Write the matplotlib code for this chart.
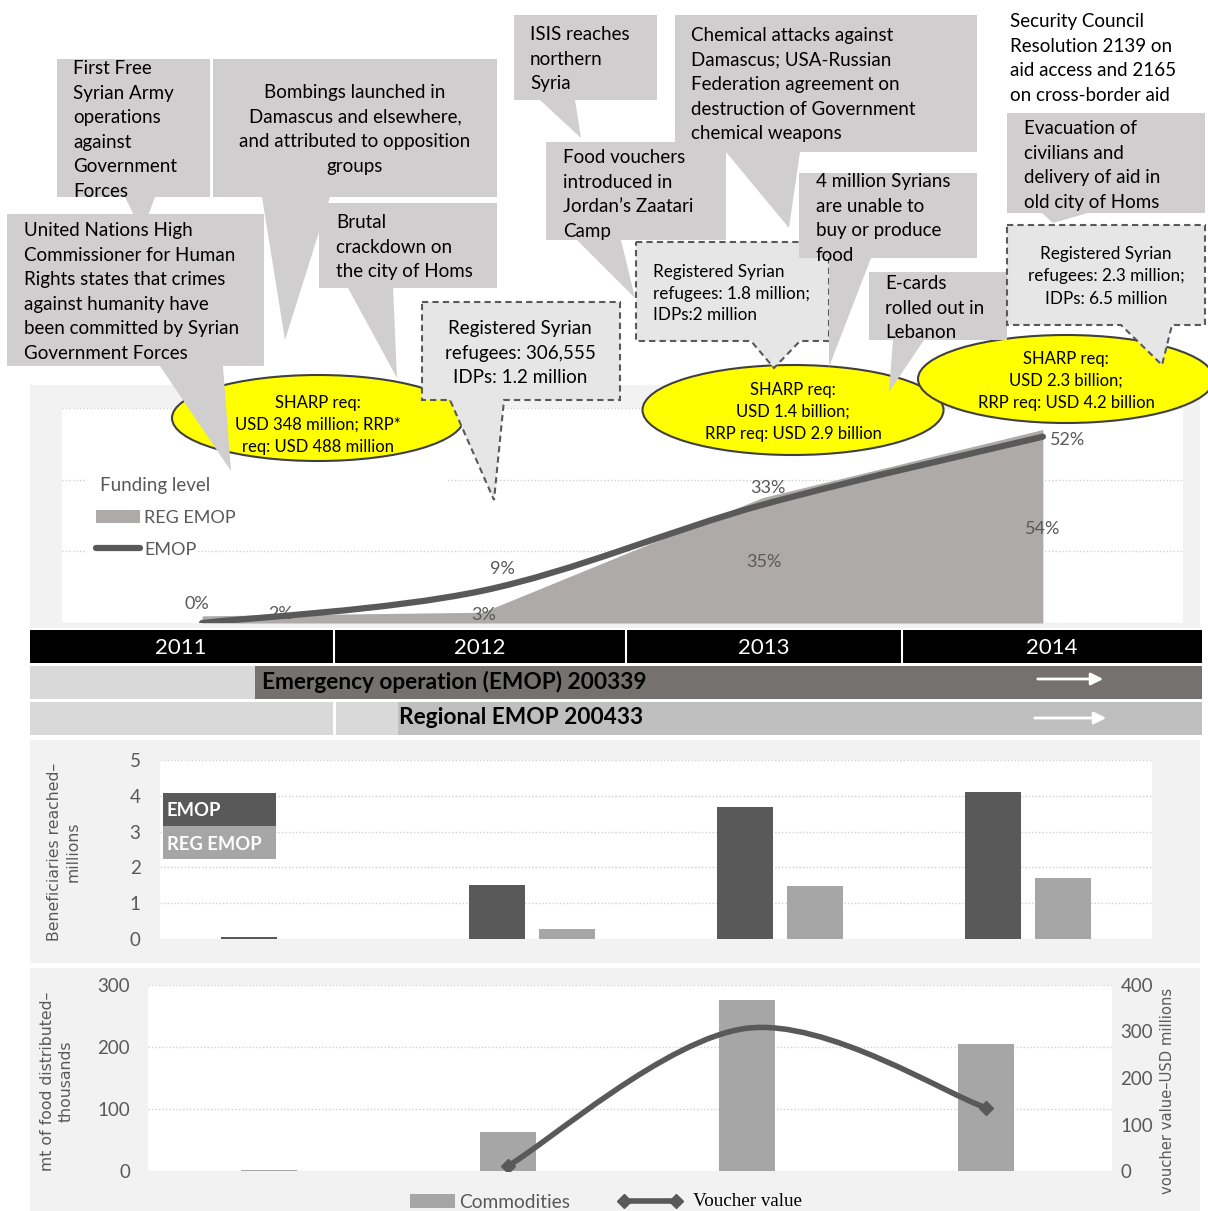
import numpy as np
import matplotlib
matplotlib.use('Agg')
import matplotlib.pyplot as plt
from matplotlib.patches import Polygon, Rectangle, Ellipse, PathPatch
from matplotlib.path import Path

W, H = 1208, 1211
FONT = 'Lato'
plt.rcParams['font.family'] = [FONT, 'DejaVu Sans']

# data
years = ['2011', '2012', '2013', '2014']
emop_funding = [0, 9, 33, 52]        # % funded
reg_funding = [2, 3, 35, 54]
emop_benef = [0.06, 1.5, 3.7, 4.1]   # millions
reg_benef = [0, 0.28, 1.47, 1.7]
commodities = [1, 63, 276, 205]      # mt thousands
voucher = [np.nan, 11, 307, 136]     # USD millions

events = {
    'ffsa': ['First Free', 'Syrian Army', 'operations', 'against', 'Government', 'Forces'],
    'bomb': ['Bombings launched in', 'Damascus and elsewhere,', 'and attributed to opposition', 'groups'],
    'un': ['United Nations High', 'Commissioner for Human', 'Rights states that crimes',
           'against humanity have', 'been committed by Syrian', 'Government Forces'],
    'homs': ['Brutal', 'crackdown on', 'the city of Homs'],
    'isis': ['ISIS reaches', 'northern', 'Syria'],
    'food': ['Food vouchers', 'introduced in', 'Jordan\u2019s Zaatari', 'Camp'],
    'chem': ['Chemical attacks against', 'Damascus; USA-Russian', 'Federation agreement on',
             'destruction of Government', 'chemical weapons'],
    'four': ['4 million Syrians', 'are unable to', 'buy or produce', 'food'],
    'ecard': ['E-cards', 'rolled out in', 'Lebanon'],
    'evac': ['Evacuation of', 'civilians and', 'delivery of aid in', 'old city of Homs'],
    'sc': ['Security Council', 'Resolution 2139 on', 'aid access and 2165', 'on cross-border aid'],
}
refugees = {
    '2012': ['Registered Syrian', 'refugees: 306,555', 'IDPs: 1.2 million'],
    '2013': ['Registered Syrian', 'refugees: 1.8 million;', 'IDPs:2 million'],
    '2014': ['Registered Syrian', 'refugees: 2.3 million;', 'IDPs: 6.5 million'],
}
requirements = {
    '2012': ['SHARP req:', 'USD 348 million; RRP*', 'req: USD 488 million'],
    '2013': ['SHARP req:', 'USD 1.4 billion;', 'RRP req: USD 2.9 billion'],
    '2014': ['SHARP req:', 'USD 2.3 billion;', 'RRP req: USD 4.2 billion'],
}

DARK = '#595959'
MID = '#a6a6a6'
CALLOUT = '#d0cece'
PANEL = '#f2f2f2'
TXT = 13.5


def smooth_path(xs, ys):
    # excel-like smoothed line: bezier through the points
    pts = np.column_stack([xs, ys]).astype(float)
    n = len(pts)
    verts = [pts[0]]
    codes = [Path.MOVETO]
    for i in range(n - 1):
        p0 = pts[max(i - 1, 0)]
        p1 = pts[i]
        p2 = pts[i + 1]
        p3 = pts[min(i + 2, n - 1)]
        verts += [p1 + (p2 - p0) / 6, p2 - (p3 - p1) / 6, p2]
        codes += [Path.CURVE4] * 3
    return Path(verts, codes)


fig = plt.figure(figsize=(W / 100, H / 100), dpi=100)


def px_axes(x0, y0, x1, y1, **kw):
    return fig.add_axes([x0 / W, 1 - y1 / H, (x1 - x0) / W, (y1 - y0) / H], **kw)


def overlay(z):
    a = fig.add_axes([0, 0, 1, 1], zorder=z)
    a.set_xlim(0, W)
    a.set_ylim(H, 0)
    a.axis('off')
    return a


bg = overlay(0)
ov = overlay(10)

# grey panels behind the charts
for (x0, y0, x1, y1) in [(30, 385, 1200, 628), (30, 740, 1200, 963), (30, 968, 1200, 1211)]:
    bg.add_patch(Rectangle((x0, y0), x1 - x0, y1 - y0, color=PANEL, lw=0))

grid_kw = dict(linestyle=(0, (1, 1.5)), color='#d0d0d0', lw=1)

# ---------------- funding level chart
ax1 = px_axes(62, 408, 1183, 623, zorder=2)
x = np.arange(len(years))
ax1.set_xlim(-0.5, 3.5)
ax1.set_ylim(0, 60)
ax1.set_yticks([0, 20, 40, 60])
ax1.yaxis.grid(True, **grid_kw)
ax1.set_axisbelow(True)
ax1.tick_params(length=0, labelleft=False, labelbottom=False)
ax1.set_xticks([])
for s in ax1.spines.values():
    s.set_visible(False)
ax1.fill_between(x, reg_funding, 0, color='#aeaaaa', lw=0, zorder=2)
ax1.add_patch(PathPatch(smooth_path(x, emop_funding), fill=False, ec=DARK, lw=4.5,
                        capstyle='round', zorder=3))
emop_off = [(-5, 19), (20, 22), (5, 17), (25, -3)]
reg_off = [(78, 2), (1, -3), (1, -64), (0, -99)]
for i in range(len(years)):
    ax1.annotate(f'{emop_funding[i]}%', (x[i], emop_funding[i]), xytext=emop_off[i],
                 textcoords='offset pixels', ha='center', va='center', fontsize=13,
                 color=DARK, zorder=5)
    ax1.annotate(f'{reg_funding[i]}%', (x[i], reg_funding[i]), xytext=reg_off[i],
                 textcoords='offset pixels', ha='center', va='center', fontsize=13,
                 color=DARK, zorder=5)

# legend of funding chart
ov.add_patch(Rectangle((85, 465), 362, 35, color='white', lw=0))
ov.add_patch(Rectangle((85, 500), 112, 60, color='white', lw=0))
ov.text(100, 485, 'Funding level', fontsize=13.5, color=DARK, va='center')
ov.add_patch(Rectangle((96, 510), 44, 13, color='#aeaaaa', lw=0))
ov.text(144, 518, 'REG EMOP', fontsize=13, color=DARK, va='center')
ov.plot([96, 140], [548, 548], color=DARK, lw=4.5, solid_capstyle='round')
ov.text(144, 550, 'EMOP', fontsize=13, color=DARK, va='center')

# ---------------- timeline
ov.add_patch(Rectangle((30, 630), 1172, 33, color='black', lw=0))
for xd in [334, 626, 902]:
    ov.plot([xd, xd], [630, 663], color='white', lw=1.5)
for xc, yr in zip([181, 480, 764, 1052], years):
    ov.text(xc, 648, yr, color='white', fontsize=16, ha='center', va='center')
ov.add_patch(Rectangle((30, 666), 225, 33, color='#d9d9d9', lw=0))
ov.add_patch(Rectangle((255, 666), 947, 33, color='#767171', lw=0))
ov.text(262, 682, 'Emergency operation (EMOP) 200339', fontsize=16.3, fontweight='bold',
        color='black', va='center')
ov.annotate('', xy=(1106, 679), xytext=(1035, 679),
            arrowprops=dict(arrowstyle='-|>', color='white', lw=2, mutation_scale=18))
ov.add_patch(Rectangle((30, 702), 303, 33, color='#d9d9d9', lw=0))
ov.add_patch(Rectangle((336, 702), 62, 33, color='#d9d9d9', lw=0))
ov.add_patch(Rectangle((398, 702), 804, 33, color='#bfbfbf', lw=0))
ov.text(399, 718, 'Regional EMOP 200433', fontsize=16.3, fontweight='bold',
        color='black', va='center')
ov.annotate('', xy=(1109, 718), xytext=(1032, 718),
            arrowprops=dict(arrowstyle='-|>', color='white', lw=2, mutation_scale=18))

# ---------------- beneficiaries chart
ax2 = px_axes(160, 760, 1152, 939, zorder=2)
bw = 0.225
ax2.bar(x - 0.141, emop_benef, bw, color=DARK, zorder=3)
ax2.bar(x + 0.141, reg_benef, bw, color=MID, zorder=3)
ax2.set_xlim(-0.5, 3.5)
ax2.set_ylim(0, 5)
ax2.set_yticks(range(6))
ax2.set_xticks([])
ax2.yaxis.grid(True, **grid_kw)
ax2.set_axisbelow(True)
ax2.tick_params(length=0, labelsize=13.5, labelcolor=DARK, pad=14)
for s in ax2.spines.values():
    s.set_visible(False)
ov.add_patch(Rectangle((163, 793), 113, 33, color=DARK, lw=0))
ov.add_patch(Rectangle((163, 826), 113, 33, color=MID, lw=0))
ov.text(167, 811, 'EMOP', color='white', fontsize=13.2, fontweight='bold', va='center')
ov.text(167, 845, 'REG EMOP', color='white', fontsize=13.2, fontweight='bold', va='center')
ov.text(64, 852, 'Beneficiaries reached\u2013\nmillions', rotation=90, ha='center',
        va='center', fontsize=11.3, color=DARK, family='DejaVu Sans', linespacing=1.25)

# ---------------- food / voucher chart
ax3 = px_axes(148, 985, 1112, 1171, zorder=2)
ax3.bar(x, commodities, 0.235, color=MID, zorder=3)
ax3.set_xlim(-0.506, 3.527)
ax3.set_ylim(0, 300)
ax3.set_yticks([0, 100, 200, 300])
ax3.set_xticks([])
ax3.yaxis.grid(True, **grid_kw)
ax3.set_axisbelow(True)
ax3.tick_params(length=0, labelsize=13.5, labelcolor=DARK, pad=13)
for s in ax3.spines.values():
    s.set_visible(False)
ax3r = ax3.twinx()
ax3r.set_ylim(0, 400)
ax3r.set_yticks([0, 100, 200, 300, 400])
ax3r.tick_params(length=0, labelsize=13.5, labelcolor=DARK, pad=6)
for s in ax3r.spines.values():
    s.set_visible(False)
vx = x[1:]
vy = np.array(voucher[1:])
ax3r.add_patch(PathPatch(smooth_path(vx, vy), fill=False, ec=DARK, lw=4, zorder=4))
ax3r.plot(vx[[0, -1]], vy[[0, -1]], 'D', color=DARK, ms=7, zorder=5)
ov.text(57, 1081, 'mt of food distributed\u2013\nthousands', rotation=90, ha='center',
        va='center', fontsize=11.3, color=DARK, family='DejaVu Sans', linespacing=1.25)
ov.text(1168, 1091, 'voucher value\u2013USD millions', rotation=90, ha='center',
        va='center', fontsize=10.6, color=DARK, family='DejaVu Sans')
ov.add_patch(Rectangle((410, 1194), 45, 14, color=MID, lw=0))
ov.text(459, 1202, 'Commodities', fontsize=13.8, color=DARK, va='center')
ov.plot([624, 676], [1201, 1201], color=DARK, lw=4, marker='D', ms=7)
ov.text(693, 1201, 'Voucher value', fontsize=13.7, color='black', va='center',
        family='Liberation Serif')

# ---------------- requirement ellipses
for key, (cx, cy, ew, eh, ys) in {
    '2012': (318, 418, 292, 86, [403, 425, 447]),
    '2013': (793, 410, 301, 90, [390, 412, 434]),
    '2014': (1066, 379, 296, 88, [359, 381, 403]),
}.items():
    ov.add_patch(Ellipse((cx, cy), ew, eh, fc='#ffff00', ec='#404040', lw=1.5))
    for line, yy in zip(requirements[key], ys):
        ov.text(cx, yy, line, fontsize=12, ha='center', va='center', color='black')


def callout(rect, ptr, lines, tx, y0, step=24.6, ha='left', size=TXT, dashed=False):
    x0, y0r, x1, y1 = rect
    bl, br, tipx, tipy = ptr
    pts = [(x0, y0r), (x1, y0r), (x1, y1), (br, y1), (tipx, tipy), (bl, y1), (x0, y1)]
    if dashed:
        ov.add_patch(Polygon(pts, closed=True, fc='#e7e6e6', ec=DARK, lw=1.5,
                             ls=(0, (3, 2)), joinstyle='miter'))
    else:
        ov.add_patch(Polygon(pts, closed=True, fc=CALLOUT, lw=0))
    for i, line in enumerate(lines):
        ov.text(tx, y0 + 1.5 + i * step, line, fontsize=size, ha=ha, va='center',
                color='black')


callout((57, 59, 210, 197), (125, 155, 142, 232), events['ffsa'], 73, 67)
callout((213, 59, 497, 197), (262, 330, 285, 340), events['bomb'], 355, 91, ha='center')
callout((7, 214, 264, 366), (160, 223, 231, 471), events['un'], 24, 229)
callout((319, 203, 497, 288), (348, 393, 397, 378), events['homs'], 336, 221)
callout((422, 302, 620, 400), (450, 504, 494, 500), refugees['2012'], 520, 327,
        ha='center', dashed=True)
callout((514, 15, 657, 100), (540, 575, 581, 138), events['isis'], 530, 33)
callout((546, 142, 726, 240), (577, 621, 635, 298), events['food'], 563, 156)
callout((675, 15, 977, 152), (726, 800, 789, 228), events['chem'], 691, 34)
callout((636, 242, 829, 341), (751, 800, 774, 368), refugees['2013'], 653, 270,
        step=22, size=12.3, dashed=True)
callout((799, 173, 977, 258), (829, 871, 829, 367), events['four'], 816, 180)
callout((869, 272, 1007, 340), (893, 924, 889, 392), events['ecard'], 885, 282)
callout((1007, 113, 1205, 213), (1042, 1088, 1053, 223), events['evac'], 1024, 127)
callout((1007, 225, 1205, 325), (1121, 1172, 1162, 365), refugees['2014'], 1106, 253,
        step=22, size=12.3, ha='center', dashed=True)
for i, line in enumerate(events['sc']):
    ov.text(1010, 21.5 + i * 24.6, line, fontsize=TXT, va='center', color='black')

fig.savefig('out.png', dpi=100)
